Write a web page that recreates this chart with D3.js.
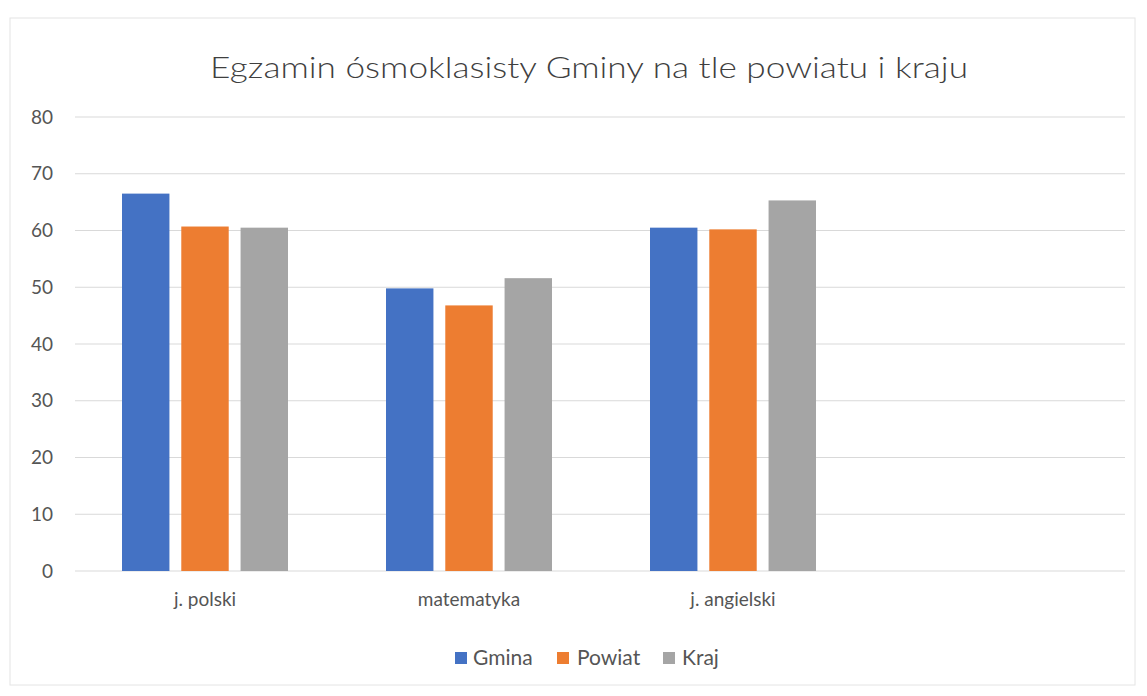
<!DOCTYPE html>
<html><head><meta charset="utf-8">
<script src="https://cdn.jsdelivr.net/npm/d3@7"></script>
<style>body{margin:0;background:#fff;} svg{display:block;}</style>
</head><body>
<script>
const categories = ["j. polski", "matematyka", "j. angielski", ""];
const seriesNames = ["Gmina", "Powiat", "Kraj"];
const gmina = [66.5, 49.8, 60.5, null];
const powiat = [60.7, 46.8, 60.2, null];
const kraj = [60.5, 51.6, 65.3, null];
const yTicks = [0, 10, 20, 30, 40, 50, 60, 70, 80];
const colors = ["#4472C4", "#ED7D31", "#A5A5A5"];
const titleText = "Egzamin ósmoklasisty Gminy na tle powiatu i kraju";

const W = 1147, H = 696;
const svg = d3.select("body").append("svg").attr("width", W).attr("height", H);
svg.append("rect").attr("x", 10).attr("y", 18).attr("width", 1125).attr("height", 667)
  .attr("fill", "#fff").attr("stroke", "#e4e4e4");

const font = "Lato, 'Open Sans', sans-serif";
const y = d3.scaleLinear().domain([0, 80]).range([571, 117]);
const x0 = d3.scaleBand().domain(categories).range([73, 1129]);
const x1 = d3.scaleBand().domain(seriesNames).range([0, 166]).paddingInner(0.2);

// gridlines
svg.append("g").selectAll("line").data(yTicks).join("line")
  .attr("x1", 75).attr("x2", 1125)
  .attr("y1", d => y(d)).attr("y2", d => y(d))
  .attr("stroke", "#d9d9d9").attr("stroke-width", 1);

// y axis labels
const yAxis = d3.axisLeft(y).tickValues(yTicks).tickSize(0).tickPadding(0);
const ga = svg.append("g").attr("transform", "translate(53,0)").call(yAxis);
ga.select(".domain").remove();
ga.selectAll("text").attr("font-family", font).attr("font-size", 19).attr("fill", "#555");

// bars
const values = [gmina, powiat, kraj];
const rows = [];
categories.forEach((c, i) => seriesNames.forEach((s, j) => {
  if (values[j][i] != null) rows.push({c, s, v: values[j][i], j});
}));
svg.append("g").selectAll("rect").data(rows).join("rect")
  .attr("x", d => x0(d.c) + x0.bandwidth() / 2 - 83 + x1(d.s))
  .attr("width", x1.bandwidth())
  .attr("y", d => y(d.v))
  .attr("height", d => y(0) - y(d.v))
  .attr("fill", d => colors[d.j]);

// category labels
const xAxis = d3.axisBottom(x0).tickSize(0).tickPadding(0);
const gx = svg.append("g").attr("transform", "translate(0,606)").call(xAxis);
gx.select(".domain").remove();
gx.selectAll("text").attr("font-family", font).attr("font-size", 19).attr("fill", "#555").attr("dy", 0).attr("y", 0);

// title
svg.append("text").attr("x", 589).attr("y", 78).attr("text-anchor", "middle")
  .attr("font-family", font).attr("font-size", 30).attr("font-weight", 300).attr("fill", "#3f3f3f")
  .attr("textLength", 758).attr("lengthAdjust", "spacingAndGlyphs")
  .text(titleText);

// legend
const legSq = [455, 557, 663];
const legTx = [473, 577, 682];
const lg = svg.append("g").selectAll("g").data(seriesNames).join("g");
lg.append("rect").attr("x", (d, i) => legSq[i]).attr("y", 652).attr("width", 12).attr("height", 12)
  .attr("fill", (d, i) => colors[i]);
lg.append("text").attr("x", (d, i) => legTx[i]).attr("y", 665).attr("font-family", font).attr("font-size", 21)
  .attr("fill", "#555").text(d => d);
</script>
</body></html>
